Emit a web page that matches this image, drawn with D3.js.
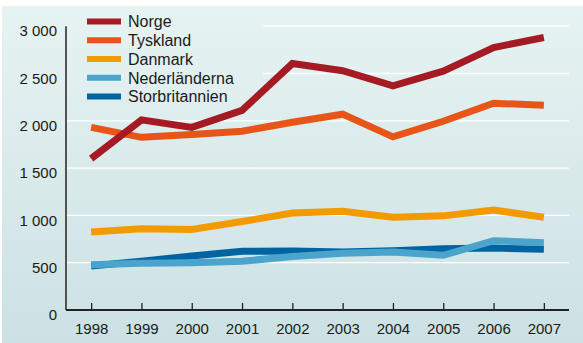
<!DOCTYPE html>
<html>
<head>
<meta charset="utf-8">
<script src="https://cdn.jsdelivr.net/npm/d3@7"></script>
<style>
  html, body { margin: 0; padding: 0; background: #ffffff; }
  svg { display: block; }
  text { font-family: "Liberation Sans", Arial, Helvetica, sans-serif; fill: #1a1a1a; }
</style>
</head>
<body>
<svg id="chart" width="583" height="343"></svg>
<script>
// Years on the x axis
const years = ["1998", "1999", "2000", "2001", "2002", "2003", "2004", "2005", "2006", "2007"];

// Series values per year
const norge          = [1600, 2010, 1930, 2110, 2605, 2530, 2370, 2525, 2775, 2880];
const tyskland       = [1930, 1825, 1855, 1890, 1985, 2070, 1830, 1995, 2185, 2165];
const danmark        = [825, 858, 852, 935, 1025, 1043, 980, 995, 1057, 980];
const nederlanderna  = [479, 493, 500, 515, 566, 600, 612, 578, 733, 711];
const storbritannien = [465, 515, 571, 620, 624, 613, 627, 648, 655, 641];

const seriesNames  = ["Norge", "Tyskland", "Danmark", "Nederländerna", "Storbritannien"];
const seriesValues = [norge, tyskland, danmark, nederlanderna, storbritannien];
const seriesColors = ["#a51b23", "#e85519", "#f39a00", "#4aa4cb", "#0064a2"];

// Y axis tick values and labels
const yTicks = [0, 500, 1000, 1500, 2000, 2500, 3000];
const yTickLabels = ["0", "500", "1 000", "1 500", "2 000", "2 500", "3 000"];

const svg = d3.select("#chart");
const W = 583, H = 343;

// Panel background gradient
const defs = svg.append("defs");
const grad = defs.append("linearGradient")
  .attr("id", "bg")
  .attr("gradientUnits", "userSpaceOnUse")
  .attr("x1", 0).attr("y1", 6).attr("x2", 0).attr("y2", H);
grad.append("stop").attr("offset", "0%").attr("stop-color", "#e7f3f3");
grad.append("stop").attr("offset", "100%").attr("stop-color", "#cce1e3");

svg.append("rect")
  .attr("x", 2).attr("y", 6).attr("width", W - 2).attr("height", H - 6)
  .attr("fill", "url(#bg)");

// Plot area
const plotLeft = 66, plotRight = 569, plotTop = 26.2, plotBottom = 310;

const x = d3.scalePoint().domain(years).range([plotLeft, plotRight]).padding(0.5);
const y = d3.scaleLinear().domain([0, 3000]).range([plotBottom, plotTop]);

// Horizontal gridlines
svg.append("g").selectAll("line")
  .data(yTicks.filter(d => d > 0))
  .join("line")
  .attr("x1", plotLeft).attr("x2", plotRight)
  .attr("y1", d => y(d)).attr("y2", d => y(d))
  .attr("stroke", "#ffffff")
  .attr("stroke-width", 1.3);

// Legend backdrop over the upper gridlines
svg.append("rect")
  .attr("x", plotLeft + 1).attr("y", 10)
  .attr("width", 263 - plotLeft - 1).attr("height", 100)
  .attr("fill", "url(#bg)");

// Y axis: line only, labels offset slightly below the gridlines
svg.append("line")
  .attr("x1", plotLeft).attr("x2", plotLeft)
  .attr("y1", y(3000)).attr("y2", plotBottom)
  .attr("stroke", "#222").attr("stroke-width", 1.5);

svg.append("g").selectAll("text")
  .data(yTicks)
  .join("text")
  .attr("x", 57)
  .attr("y", d => y(d) + 5)
  .attr("dy", "0.35em")
  .attr("text-anchor", "end")
  .style("font-size", "15px")
  .text((d, i) => yTickLabels[i]);

// X axis with inward ticks
const xAxis = d3.axisBottom(x).tickSize(-7).tickPadding(13).tickSizeOuter(0);
const gx = svg.append("g")
  .attr("transform", `translate(0,${plotBottom})`)
  .call(xAxis);
gx.select(".domain").attr("stroke", "#222").attr("stroke-width", 2)
  .attr("d", `M${plotLeft},0H${plotRight}`);
gx.selectAll(".tick line").attr("stroke", "#222").attr("stroke-width", 1.3);
gx.selectAll(".tick text")
  .attr("fill", "#1a1a1a")
  .style("font-family", "'Liberation Sans', Arial, sans-serif")
  .style("font-size", "15px");

// Lines, drawn from the last series up so Norge sits on top
const line = d3.line()
  .x((d, i) => x(years[i]))
  .y(d => y(d));

const order = d3.range(seriesNames.length).reverse();
svg.append("g").selectAll("path")
  .data(order)
  .join("path")
  .attr("d", i => line(seriesValues[i]))
  .attr("fill", "none")
  .attr("stroke", i => seriesColors[i])
  .attr("stroke-width", 7)
  .attr("stroke-linejoin", "miter")
  .attr("stroke-linecap", "butt");

// Legend
const legend = svg.append("g");
const rowY = i => 21.5 + i * 18.75;
legend.selectAll("line")
  .data(seriesNames)
  .join("line")
  .attr("x1", 87).attr("x2", 121)
  .attr("y1", (d, i) => rowY(i)).attr("y2", (d, i) => rowY(i))
  .attr("stroke", (d, i) => seriesColors[i])
  .attr("stroke-width", 6);
legend.selectAll("text")
  .data(seriesNames)
  .join("text")
  .attr("x", 128)
  .attr("y", (d, i) => rowY(i))
  .attr("dy", "0.36em")
  .style("font-size", "16px")
  .text(d => d);
</script>
</body>
</html>
